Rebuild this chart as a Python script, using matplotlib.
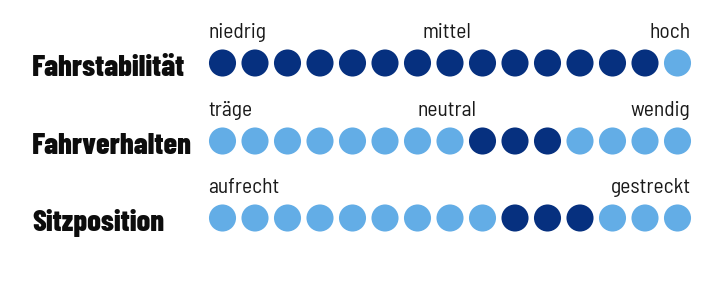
import matplotlib
matplotlib.use("Agg")
import matplotlib.pyplot as plt

# rating data: 1 = dark dot (value), 0 = light dot
categories = ["Fahrstabilität", "Fahrverhalten", "Sitzposition"]
ratings = [
    [1, 1, 1, 1, 1, 1, 1, 1, 1, 1, 1, 1, 1, 1, 0],
    [0, 0, 0, 0, 0, 0, 0, 0, 1, 1, 1, 0, 0, 0, 0],
    [0, 0, 0, 0, 0, 0, 0, 0, 0, 1, 1, 1, 0, 0, 0],
]
left_labels = ["niedrig", "träge", "aufrecht"]
mid_labels = ["mittel", "neutral", ""]
right_labels = ["hoch", "wendig", "gestreckt"]

dark = "#06307f"
light = "#63ade6"
bold_font = ["Barlow Condensed", "DejaVu Sans"]
thin_font = ["Barlow Semi Condensed", "DejaVu Sans"]

# layout in pixels
x0, step = 222.5, 32.5
row_y = [63, 141, 218]

fig = plt.figure(figsize=(7.12, 2.81), dpi=100)
ax = fig.add_axes([0, 0, 1, 1])
ax.set_xlim(0, 712)
ax.set_ylim(281, 0)
ax.axis("off")

for r, name in enumerate(categories):
    y = row_y[r]
    xs = [x0 + i * step for i in range(len(ratings[r]))]
    cols = [dark if v else light for v in ratings[r]]
    ax.scatter(xs, [y] * len(xs), s=380, c=cols, linewidths=0)
    ax.text(32, y + 13, name, fontsize=22, fontweight=800,
            family=bold_font, color="#0d0d0d",
            ha="left", va="baseline")
    ax.text(xs[0] - 14, y - 25, left_labels[r], fontsize=15.5,
            family=thin_font, color="#1a1a1a",
            ha="left", va="baseline")
    if mid_labels[r]:
        ax.text(xs[7] - 3, y - 25, mid_labels[r], fontsize=15.5,
                family=thin_font, color="#1a1a1a",
                ha="center", va="baseline")
    ax.text(xs[-1] + 13, y - 25, right_labels[r], fontsize=15.5,
            family=thin_font, color="#1a1a1a",
            ha="right", va="baseline")

fig.savefig("out.png", dpi=100)
